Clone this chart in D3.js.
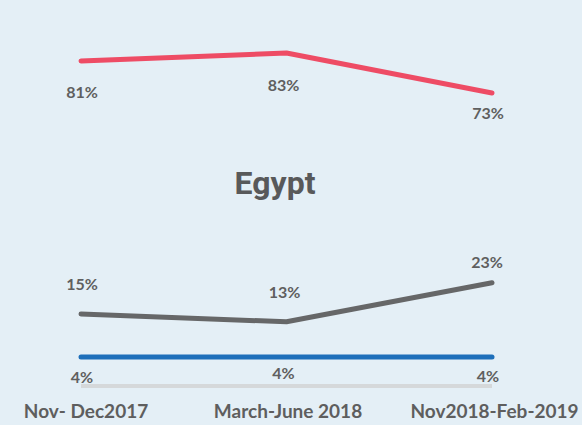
<!DOCTYPE html>
<html><head><meta charset="utf-8">
<script src="https://cdn.jsdelivr.net/npm/d3@7"></script>
<style>
html,body{margin:0;padding:0;background:#e4eff6;}
svg{display:block;font-family:Lato,"Open Sans",sans-serif;}
</style></head>
<body><div id="chart"></div>
<script>
const categories = ["Nov- Dec2017", "March-June 2018", "Nov2018-Feb-2019"];
const seriesRed = [81, 83, 73];
const seriesGrey = [15, 13, 23];
const seriesBlue = [4, 4, 4];
const title = "Egypt";

const W = 582, H = 425;
const svg = d3.select("#chart").append("svg").attr("width", W).attr("height", H);
svg.append("rect").attr("width", W).attr("height", H).attr("fill", "#e4eff6");

const x = d3.scalePoint().domain(categories).range([81, 492]);
// broken value axis: lower band and upper band
const y = d3.scaleLinear().domain([0, 40, 60, 100]).range([372.5, 216.5, 145, -15]);

// baseline axis
const xAxis = d3.axisBottom(x).tickSize(0).tickPadding(18.5);
const gx = svg.append("g").attr("transform", "translate(0,386)").call(xAxis);
gx.select(".domain").attr("stroke", "#d5d8da").attr("stroke-width", 4)
  .attr("d", `M${x.range()[0]},0H${x.range()[1]}`);
gx.selectAll("text").attr("fill", "#5e5e5e").attr("font-size", 19)
  .attr("font-weight", 700).attr("font-family", "Lato, sans-serif");
gx.selectAll(".tick text").attr("dx", (d,i)=> [4.5, 1, 2][i]);

const line = d3.line().x((d,i)=>x(categories[i])).y(d=>y(d));
const series = [
  {vals: seriesRed, color: "#ee4c65", dy: [31, 32, 20], dx:[1,-3,-4]},
  {vals: seriesGrey, color: "#666768", dy: [-30, -29, -20], dx:[1,-2,-5]},
  {vals: seriesBlue, color: "#1d6fba", dy: [20, 16, 19], dx:[1,-3,-4]}
];
series.forEach(s => {
  svg.append("path").datum(s.vals).attr("d", line).attr("fill", "none")
    .attr("stroke", s.color).attr("stroke-width", 5).attr("stroke-linecap", "round")
    .attr("stroke-linejoin", "round");
  svg.selectAll(null).data(s.vals).enter().append("text")
    .attr("x", (d,i)=>x(categories[i]) + s.dx[i])
    .attr("y", (d,i)=>y(d) + s.dy[i])
    .attr("dy", "0.35em")
    .attr("text-anchor", "middle")
    .attr("font-size", 16).attr("font-weight", 700).attr("fill", "#5f5f5f")
    .text(d => d + "%");
});

svg.append("text").attr("x", 275).attr("y", 194)
  .attr("text-anchor", "middle").attr("font-size", 32).attr("font-weight", 700)
  .attr("font-family", "Roboto, sans-serif")
  .attr("fill", "#58595a").text(title);
</script></body></html>
